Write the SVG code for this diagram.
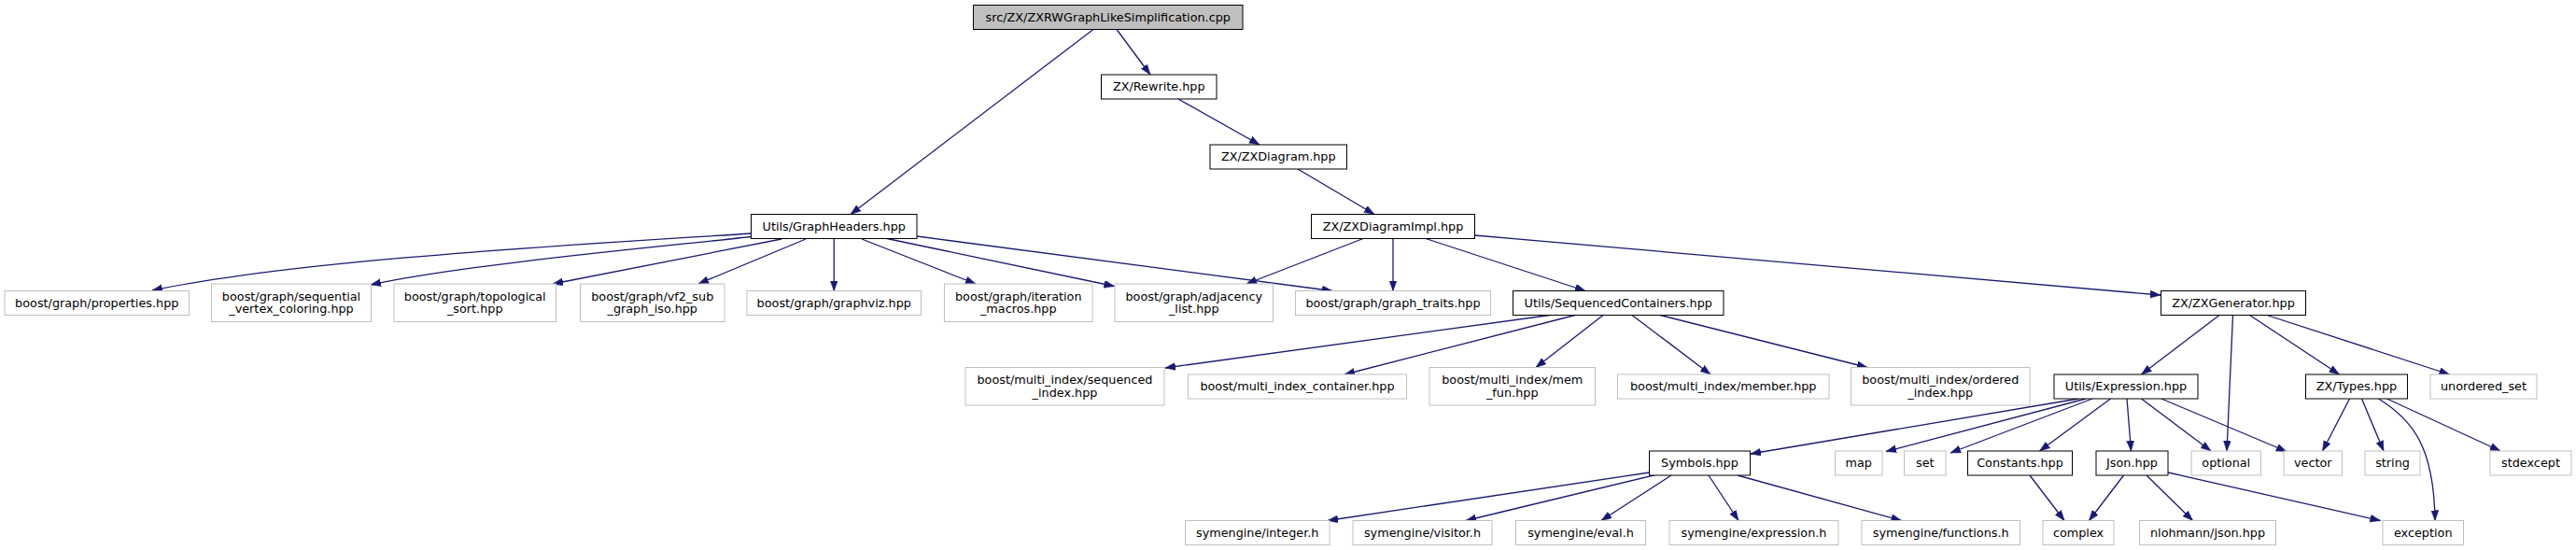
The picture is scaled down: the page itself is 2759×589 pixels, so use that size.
<svg xmlns="http://www.w3.org/2000/svg" width="2759" height="589" viewBox="0 0 2759 589">
<style>
text{font-family:"DejaVu Sans","Liberation Sans",sans-serif;font-size:12.8px;fill:#000;text-anchor:middle}
.root rect{fill:#bfbfbf;stroke:#000;stroke-width:1}
.doc rect{fill:#fff;stroke:#000;stroke-width:1}
.ext rect{fill:#fff;stroke:#bfbfbf;stroke-width:1}
#edges path{fill:none;stroke:#191970;stroke-width:1.3;marker-end:url(#ah)}
</style>
<defs>
<marker id="ah" markerUnits="userSpaceOnUse" markerWidth="12" markerHeight="9" refX="11" refY="4" orient="auto" viewBox="0 0 12 9">
<path d="M0,0 L11,4 L0,8 z" fill="#191970" stroke="#191970" stroke-width="0.5"/>
</marker>
</defs>
<rect width="2759" height="589" fill="#fff"/>
<g id="edges">
<path d="M1196,31.5 L1232,80"/>
<path d="M1171,31.5 L911,229.5"/>
<path d="M1262,106 L1349,155"/>
<path d="M1390,181 L1472,229.5"/>
<path d="M804.5,250 C620,262 320,278 163,311"/>
<path d="M804.5,253.5 C700,265 500,283 397,305"/>
<path d="M837,256 L592,304"/>
<path d="M863,256 L748,304"/>
<path d="M893.25,255.5 L893.25,311.5"/>
<path d="M923,256 L1045,304"/>
<path d="M950,255.5 L1193.5,306.5"/>
<path d="M982,253 L1427,311.5"/>
<path d="M1460,255.5 L1335,304"/>
<path d="M1492,255.5 L1492,311.5"/>
<path d="M1527,255.5 L1698,311.5"/>
<path d="M1579.5,252 L2314,316"/>
<path d="M1660,337.5 L1248,394"/>
<path d="M1687,337.5 L1440,401"/>
<path d="M1717,337.5 L1645,393.5"/>
<path d="M1748,337.5 L1832,401"/>
<path d="M1778,337.5 L2000,393.5"/>
<path d="M2377,337.5 L2293.5,401"/>
<path d="M2391.5,337.5 L2385,483"/>
<path d="M2409.5,337.5 L2505.5,401"/>
<path d="M2428,337.5 L2623.5,401"/>
<path d="M2226,427 L1875,486"/>
<path d="M2234,427 L2020,483.5"/>
<path d="M2241,427 L2089,485"/>
<path d="M2260.5,427 L2184.5,483"/>
<path d="M2278,427 L2282.5,483"/>
<path d="M2293.5,427 L2368,483"/>
<path d="M2315,427 L2449,483.5"/>
<path d="M2516.5,427 L2487.5,483"/>
<path d="M2529.5,427 L2553,483"/>
<path d="M2547.5,427 C2585,450 2607,480 2608,557.5"/>
<path d="M2556.5,427 L2678,483"/>
<path d="M1766.5,506 L1422,557.5"/>
<path d="M1773,508.5 L1570,557.5"/>
<path d="M1790,509 L1715,557.5"/>
<path d="M1830,509 L1862,557.5"/>
<path d="M1861,509 L2036.5,557.5"/>
<path d="M2174,509 L2211,557.5"/>
<path d="M2274.5,509 L2237.5,557.5"/>
<path d="M2299,509 L2348.5,557.5"/>
<path d="M2322,506 L2549.5,557.5"/>
</g>
<g id="n_root" class="root"><rect x="1042.5" y="5.5" width="288.5" height="26"/><text x="1186.75" y="22.8">src/ZX/ZXRWGraphLikeSimplification.cpp</text></g>
<g id="n_rewrite" class="doc"><rect x="1179.5" y="80" width="123.5" height="26"/><text x="1241.25" y="97.3">ZX/Rewrite.hpp</text></g>
<g id="n_zxdiagram" class="doc"><rect x="1296" y="155" width="146.5" height="26"/><text x="1369.25" y="172.3">ZX/ZXDiagram.hpp</text></g>
<g id="n_graphheaders" class="doc"><rect x="804.5" y="229.5" width="177.5" height="26"/><text x="893.25" y="246.8">Utils/GraphHeaders.hpp</text></g>
<g id="n_zxdiagramimpl" class="doc"><rect x="1404.5" y="229.5" width="175" height="26"/><text x="1492" y="246.8">ZX/ZXDiagramImpl.hpp</text></g>
<g id="n_properties" class="ext"><rect x="5" y="311.5" width="197.5" height="26"/><text x="103.75" y="328.8">boost/graph/properties.hpp</text></g>
<g id="n_sequential" class="ext"><rect x="226.5" y="304" width="171" height="40.5"/><text x="312" y="321.5">boost/graph/sequential</text><text x="312" y="335">_vertex_coloring.hpp</text></g>
<g id="n_topological" class="ext"><rect x="422" y="304" width="173.5" height="40.5"/><text x="508.75" y="321.5">boost/graph/topological</text><text x="508.75" y="335">_sort.hpp</text></g>
<g id="n_vf2" class="ext"><rect x="621.5" y="304" width="154.5" height="40.5"/><text x="698.75" y="321.5">boost/graph/vf2_sub</text><text x="698.75" y="335">_graph_iso.hpp</text></g>
<g id="n_graphviz" class="ext"><rect x="800" y="311.5" width="186.5" height="26"/><text x="893.25" y="328.8">boost/graph/graphviz.hpp</text></g>
<g id="n_iteration" class="ext"><rect x="1011.5" y="304" width="158.5" height="40.5"/><text x="1090.75" y="321.5">boost/graph/iteration</text><text x="1090.75" y="335">_macros.hpp</text></g>
<g id="n_adjacency" class="ext"><rect x="1194" y="304" width="169.5" height="40.5"/><text x="1278.75" y="321.5">boost/graph/adjacency</text><text x="1278.75" y="335">_list.hpp</text></g>
<g id="n_graphtraits" class="ext"><rect x="1387.5" y="311.5" width="209" height="26"/><text x="1492" y="328.8">boost/graph/graph_traits.hpp</text></g>
<g id="n_seqcontainers" class="doc"><rect x="1620.5" y="311.5" width="225.5" height="26"/><text x="1733.25" y="328.8">Utils/SequencedContainers.hpp</text></g>
<g id="n_zxgenerator" class="doc"><rect x="2314.5" y="311.5" width="155" height="26"/><text x="2392" y="328.8">ZX/ZXGenerator.hpp</text></g>
<g id="n_sequenced" class="ext"><rect x="1034" y="393.5" width="213" height="40.5"/><text x="1140.5" y="411">boost/multi_index/sequenced</text><text x="1140.5" y="424.5">_index.hpp</text></g>
<g id="n_container" class="ext"><rect x="1272.5" y="401" width="234" height="26"/><text x="1389.5" y="418.3">boost/multi_index_container.hpp</text></g>
<g id="n_memfun" class="ext"><rect x="1531" y="393.5" width="177.5" height="40.5"/><text x="1619.75" y="411">boost/multi_index/mem</text><text x="1619.75" y="424.5">_fun.hpp</text></g>
<g id="n_member" class="ext"><rect x="1732.5" y="401" width="226.5" height="26"/><text x="1845.75" y="418.3">boost/multi_index/member.hpp</text></g>
<g id="n_ordered" class="ext"><rect x="1982.5" y="393.5" width="191.5" height="40.5"/><text x="2078.25" y="411">boost/multi_index/ordered</text><text x="2078.25" y="424.5">_index.hpp</text></g>
<g id="n_expression" class="doc"><rect x="2200" y="401" width="154" height="26"/><text x="2277" y="418.3">Utils/Expression.hpp</text></g>
<g id="n_types" class="doc"><rect x="2469.5" y="401" width="109" height="26"/><text x="2524" y="418.3">ZX/Types.hpp</text></g>
<g id="n_unorderedset" class="ext"><rect x="2603" y="401" width="114" height="26"/><text x="2660" y="418.3">unordered_set</text></g>
<g id="n_symbols" class="doc"><rect x="1766.5" y="483" width="108" height="26"/><text x="1820.5" y="500.3">Symbols.hpp</text></g>
<g id="n_map" class="ext"><rect x="1965.5" y="483" width="50.5" height="26"/><text x="1990.75" y="500.3">map</text></g>
<g id="n_set" class="ext"><rect x="2039.5" y="483" width="44.5" height="26"/><text x="2061.75" y="500.3">set</text></g>
<g id="n_constants" class="doc"><rect x="2107.5" y="483" width="112" height="26"/><text x="2163.5" y="500.3">Constants.hpp</text></g>
<g id="n_json" class="doc"><rect x="2245" y="483" width="77" height="26"/><text x="2283.5" y="500.3">Json.hpp</text></g>
<g id="n_optional" class="ext"><rect x="2347" y="483" width="74.5" height="26"/><text x="2384.25" y="500.3">optional</text></g>
<g id="n_vector" class="ext"><rect x="2446" y="483" width="62.5" height="26"/><text x="2477.25" y="500.3">vector</text></g>
<g id="n_string" class="ext"><rect x="2533" y="483" width="59" height="26"/><text x="2562.5" y="500.3">string</text></g>
<g id="n_stdexcept" class="ext"><rect x="2667" y="483" width="87" height="26"/><text x="2710.5" y="500.3">stdexcept</text></g>
<g id="n_integer" class="ext"><rect x="1269.5" y="557.5" width="154.5" height="26"/><text x="1346.75" y="574.8">symengine/integer.h</text></g>
<g id="n_visitor" class="ext"><rect x="1449" y="557.5" width="149" height="26"/><text x="1523.5" y="574.8">symengine/visitor.h</text></g>
<g id="n_eval" class="ext"><rect x="1623.5" y="557.5" width="139" height="26"/><text x="1693" y="574.8">symengine/eval.h</text></g>
<g id="n_expressionh" class="ext"><rect x="1788" y="557.5" width="181" height="26"/><text x="1878.5" y="574.8">symengine/expression.h</text></g>
<g id="n_functions" class="ext"><rect x="1994" y="557.5" width="169.5" height="26"/><text x="2078.75" y="574.8">symengine/functions.h</text></g>
<g id="n_complex" class="ext"><rect x="2188" y="557.5" width="76" height="26"/><text x="2226" y="574.8">complex</text></g>
<g id="n_nlohmann" class="ext"><rect x="2291.5" y="557.5" width="146" height="26"/><text x="2364.5" y="574.8">nlohmann/json.hpp</text></g>
<g id="n_exception" class="ext"><rect x="2552" y="557.5" width="86.5" height="26"/><text x="2595.25" y="574.8">exception</text></g>
</svg>
